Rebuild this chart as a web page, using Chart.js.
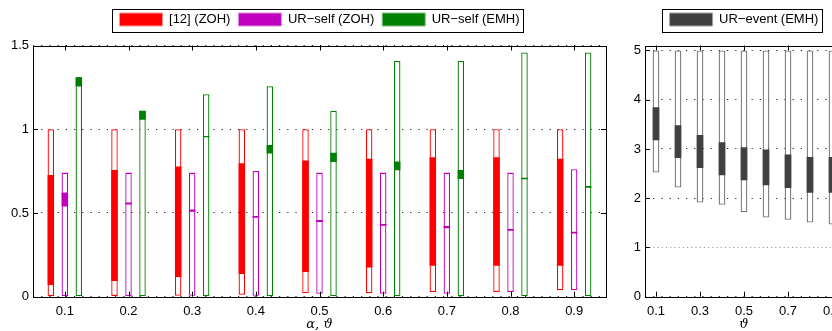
<!DOCTYPE html>
<html><head><meta charset="utf-8">
<script src="https://cdn.jsdelivr.net/npm/chart.js@4.4.1/dist/chart.umd.min.js"></script>
<style>
html,body{margin:0;padding:0;background:#fff;}
#wrap{position:relative;width:832px;height:331px;overflow:hidden;background:#fff;}
#c1{position:absolute;left:0;top:0;}
#c2{position:absolute;left:615px;top:0;}
</style></head><body>
<div id="wrap">
<canvas id="c1" width="639" height="331"></canvas>
<canvas id="c2" width="258" height="331"></canvas>
</div>
<script>
// ---- data ----
const categories = ['0.1','0.2','0.3','0.4','0.5','0.6','0.7','0.8','0.9'];
const eventTickLabels = ['0.1','','0.3','','0.5','','0.7','','0.9'];

// [12] (ZOH): full range and inner (filled) range
const refZohMin  = [0, 0.004, 0.006, 0.012, 0.02, 0.02, 0.028, 0.028, 0.038];
const refZohMax  = [1, 1, 1, 1, 1, 1, 1, 1, 1];
const refZohLow  = [0.07, 0.094, 0.118, 0.135, 0.147, 0.175, 0.185, 0.185, 0.185];
const refZohHigh = [0.727, 0.757, 0.777, 0.797, 0.813, 0.823, 0.833, 0.833, 0.823];

// UR-self (ZOH)
const selfZohMin  = [0, 0, 0.006, 0.006, 0.018, 0.018, 0.018, 0.028, 0.038];
const selfZohMax  = [0.741, 0.741, 0.741, 0.751, 0.741, 0.741, 0.741, 0.741, 0.761];
const selfZohLow  = [0.538, 0.55, 0.508, 0.472, 0.446, 0.424, 0.408, 0.394, 0.378];
const selfZohHigh = [0.622, 0.562, 0.52, 0.482, 0.458, 0.434, 0.422, 0.404, 0.388];

// UR-self (EMH)
const selfEmhMin  = [0, 0, 0, 0, 0, 0, 0, 0, 0];
const selfEmhMax  = [1.31, 1.11, 1.209, 1.257, 1.11, 1.408, 1.408, 1.458, 1.458];
const selfEmhLow  = [1.255, 1.056, 0.952, 0.855, 0.805, 0.755, 0.703, 0.701, 0.651];
const selfEmhHigh = [1.31, 1.11, 0.96, 0.906, 0.859, 0.807, 0.757, 0.711, 0.661];

// UR-event (EMH)
const eventMin  = [2.52, 2.216, 1.912, 1.865, 1.716, 1.608, 1.561, 1.507, 1.466];
const eventMax  = [5, 5, 5, 5, 5, 5, 5, 5, 5];
const eventLow  = [3.176, 2.818, 2.615, 2.466, 2.365, 2.264, 2.209, 2.108, 2.108];
const eventHigh = [3.845, 3.48, 3.284, 3.135, 3.034, 2.986, 2.885, 2.838, 2.838];

// ---- styling ----
const RED = '#ff0000', MAG = '#bf00bf', GRN = '#008000', GRY = '#404040';
Chart.defaults.font.family = "'Liberation Sans', Arial, sans-serif";
Chart.defaults.font.size = 13;
Chart.defaults.color = '#000';

function bar(label, lo, hi, stack, bg, border, bw, order, cp, bp) {
  return {
    label, data: lo.map((v, i) => [v, hi[i]]), stack,
    backgroundColor: bg, borderColor: border, borderWidth: bw,
    borderSkipped: false, order, xAxisID: 'x', yAxisID: 'y',
    categoryPercentage: cp, barPercentage: bp
  };
}

const frameTicks = {
  id: 'frameTicks',
  afterDraw(chart, args, opts) {
    const {ctx, chartArea: a} = chart;
    const xs = chart.scales.x, ys = chart.scales.y;
    const L = 5;
    const sn = v => Math.round(v) + 0.5;
    ctx.save();
    ctx.strokeStyle = '#000';
    ctx.lineWidth = 1;
    ctx.beginPath();
    xs.ticks.forEach((t, i) => {
      if (i % opts.xStep) return;
      const px = sn(xs.getPixelForTick(i));
      ctx.moveTo(px, a.top); ctx.lineTo(px, a.top + L);
      ctx.moveTo(px, a.bottom); ctx.lineTo(px, a.bottom - L);
    });
    ys.ticks.forEach((t, i) => {
      const py = sn(ys.getPixelForTick(i));
      ctx.moveTo(a.left, py); ctx.lineTo(a.left + L, py);
      ctx.moveTo(a.right, py); ctx.lineTo(a.right - L, py);
    });
    ctx.stroke();
    ctx.strokeRect(sn(a.left), sn(a.top), Math.round(a.right) - Math.round(a.left), Math.round(a.bottom) - Math.round(a.top));
    const hb = chart.legend && chart.legend.legendHitBoxes;
    if (hb && hb.length) {
      const f = hb[0], l = hb[hb.length - 1];
      const x0 = sn(f.left - 8), x1 = sn(l.left + l.width + 4);
      const y0 = sn(f.top - 4);
      ctx.strokeRect(x0, y0, x1 - x0, 23);
    }
    ctx.restore();
  }
};

function commonScales(yOpts, yW, xTickCb, titleText) {
  return {
    x: {
      type: 'category', position: 'bottom', offset: true,
      grid: {display: false, drawTicks: false}, border: {display: false},
      ticks: {autoSkip: false, maxRotation: 0, padding: 7, color: '#000', callback: xTickCb},
      title: {display: true, text: titleText, color: '#000', padding: {top: 0, bottom: 0},
              font: {family: "'DejaVu Serif', 'Liberation Serif', serif", style: 'italic', size: 13, lineHeight: 1}},
      afterFit(s) { s.height = 34.3; }
    },
    y: yOpts,
    yR: {
      type: 'linear', position: 'right', display: true,
      grid: {display: false, drawTicks: false}, border: {display: false}, ticks: {display: false},
      afterFit(s) { s.width = yW; }
    },
    xT: {
      type: 'category', position: 'top', display: true,
      grid: {display: false, drawTicks: false}, border: {display: false}, ticks: {display: false},
      afterFit(s) { s.height = 9.5; }
    }
  };
}

// ---- left chart ----
const cp1 = 0.66, bp1 = 0.464;
const y1 = {
  type: 'linear', position: 'left', min: 0, max: 1.5, stacked: false,
  ticks: {stepSize: 0.5, padding: 4, color: '#000', autoSkip: false, callback: v => String(v)},
  grid: {drawTicks: false, color: '#222', lineWidth: 1},
  border: {display: false, dash: [1.2, 7]},
  afterFit(s) { s.width = 33; }
};
new Chart(document.getElementById('c1'), {
  type: 'bar',
  data: {
    labels: categories,
    datasets: [
      bar('[12] (ZOH)', refZohLow, refZohHigh, 'ref', RED, RED, 0, 0, cp1, bp1),
      bar('UR−self (ZOH)', selfZohLow, selfZohHigh, 'szoh', MAG, MAG, 0, 0, cp1, bp1),
      bar('UR−self (EMH)', selfEmhLow, selfEmhHigh, 'semh', GRN, GRN, 0, 0, cp1, bp1),
      bar('[12] (ZOH) range', refZohMin, refZohMax, 'ref', '#fff', RED, 1.3, 1, cp1, bp1),
      bar('UR−self (ZOH) range', selfZohMin, selfZohMax, 'szoh', '#fff', MAG, 1.3, 1, cp1, bp1),
      bar('UR−self (EMH) range', selfEmhMin, selfEmhMax, 'semh', '#fff', GRN, 1.3, 1, cp1, bp1)
    ]
  },
  options: {
    responsive: false, animation: false,
    layout: {padding: {top: 5, left: 0, right: 0, bottom: 0}},
    plugins: {
      tooltip: {enabled: false},
      frameTicks: {xStep: 1},
      legend: {
        position: 'top', align: 'center',
        labels: {
          boxWidth: 43, boxHeight: 13, padding: 8, color: '#000', font: {size: 13},
          generateLabels: () => [
            {text: '[12] (ZOH)', fillStyle: RED, strokeStyle: '#ff9090', lineWidth: 1, hidden: false, datasetIndex: 0},
            {text: 'UR−self (ZOH)', fillStyle: MAG, strokeStyle: '#dc8cdc', lineWidth: 1, hidden: false, datasetIndex: 1},
            {text: 'UR−self (EMH)', fillStyle: GRN, strokeStyle: '#80c080', lineWidth: 1, hidden: false, datasetIndex: 2}
          ]
        }
      }
    },
    scales: commonScales(y1, 33, (v, i) => categories[i], 'α, ϑ')
  },
  plugins: [frameTicks]
});

// ---- right chart ----
const cp2 = 0.8, bp2 = 0.38;
const y2 = {
  type: 'linear', position: 'left', min: 0, max: 5.1, stacked: false,
  ticks: {stepSize: 1, includeBounds: false, padding: 4, color: '#000', autoSkip: false, callback: v => String(v)},
  grid: {drawTicks: false, lineWidth: 1,
         color: c => (c.tick && c.tick.value === 1) ? '#999' : '#222'},
  border: {display: false, dash: c => (c.tick && c.tick.value === 1) ? [1.2, 3] : [1.2, 7]},
  afterFit(s) { s.width = 30; }
};
new Chart(document.getElementById('c2'), {
  type: 'bar',
  data: {
    labels: categories,
    datasets: [
      bar('UR−event (EMH)', eventLow, eventHigh, 'ev', GRY, GRY, 0, 0, cp2, bp2),
      bar('UR−event (EMH) range', eventMin, eventMax, 'ev', '#fff', '#777', 1.3, 1, cp2, bp2)
    ]
  },
  options: {
    responsive: false, animation: false,
    layout: {padding: {top: 5, left: 0, right: 0, bottom: 0}},
    plugins: {
      tooltip: {enabled: false},
      frameTicks: {xStep: 2},
      legend: {
        position: 'top', align: 'center',
        labels: {
          boxWidth: 43, boxHeight: 13, padding: 8, color: '#000', font: {size: 13},
          generateLabels: () => [
            {text: 'UR−event (EMH)', fillStyle: GRY, strokeStyle: '#a0a0a0', lineWidth: 1, hidden: false, datasetIndex: 0}
          ]
        }
      }
    },
    scales: commonScales(y2, 30, (v, i) => eventTickLabels[i], 'ϑ')
  },
  plugins: [frameTicks]
});
</script>
</body></html>
